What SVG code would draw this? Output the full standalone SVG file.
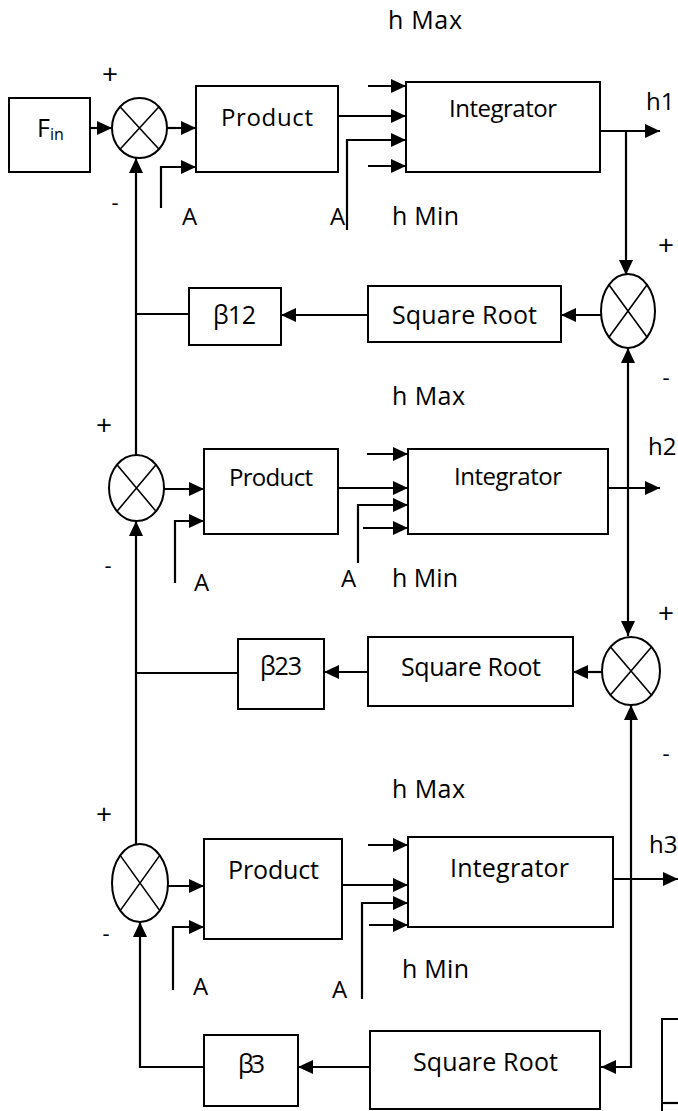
<svg xmlns="http://www.w3.org/2000/svg" width="678" height="1111" viewBox="0 0 678 1111">
<style>
.box{fill:#fff;stroke:#000;stroke-width:2}
.sum{fill:#fff;stroke:#000;stroke-width:2}
.x{stroke:#000;stroke-width:1.6}
.c{fill:none;stroke:#000;stroke-width:2.2}
.a{marker-end:url(#ah)}
text{font-family:"Open Sans","Noto Sans",sans-serif;fill:#000}
.t24{font-size:24px}
.t26{font-size:25px}
.t22{font-size:25px}
.sg{font-size:28px}
.mn{font-size:22px}
</style>
<defs>
<marker id="ah" markerUnits="userSpaceOnUse" markerWidth="15" markerHeight="14" refX="15" refY="7" orient="auto-start-reverse" viewBox="0 0 15 14">
<path d="M0,0 L15,7 L0,14 z" fill="#000"/>
</marker>
</defs>
<rect width="678" height="1111" fill="#fff"/>

<g id="connectors">
<path class="c a" d="M90,128 H112"/>
<path class="c a" d="M167,128 H196"/>
<path class="c a" d="M161,208 V167 H196"/>
<path class="c a" d="M338,116 H406"/>
<path class="c a" d="M368,86 H406"/>
<path class="c a" d="M347,230 V140 H406"/>
<path class="c a" d="M368,166 H406"/>
<path class="c a" d="M600,131 H660"/>
<path class="c a" d="M626,131 V275"/>
<path class="c a" d="M601,315 H561"/>
<path class="c a" d="M368,315 H281"/>
<path class="c" d="M189,314 H136"/>
<path class="c a" d="M136,455 V158"/>
<path class="c a" d="M628,636 V348" style="marker-start:url(#ah)"/>
<path class="c a" d="M164,489 H204"/>
<path class="c a" d="M175,583 V521 H204"/>
<path class="c a" d="M338,488 H408"/>
<path class="c a" d="M367,454 H408"/>
<path class="c a" d="M358,563 V505 H408"/>
<path class="c a" d="M363,528 H408"/>
<path class="c a" d="M608,488 H660"/>
<path class="c a" d="M602,672 H573"/>
<path class="c a" d="M368,672 H324"/>
<path class="c" d="M238,673 H136"/>
<path class="c a" d="M136,845 V521"/>
<path class="c a" d="M168,886 H204"/>
<path class="c a" d="M173,990 V927 H204"/>
<path class="c a" d="M342,885 H408"/>
<path class="c a" d="M368,845 H408"/>
<path class="c a" d="M362,999 V903 H408"/>
<path class="c a" d="M369,925 H408"/>
<path class="c a" d="M613,879 H678"/>
<path class="c a" d="M631,705 V1067 H601" style="marker-start:url(#ah)"/>
<path class="c a" d="M204,1067 H140 V922"/>
<path class="c a" d="M370,1067 H298"/>
</g>

<g id="fin">
<rect class="box" x="9" y="98" width="81" height="74"/>
<text class="t26" x="37" y="137">F<tspan font-size="16" dy="3">in</tspan></text>
</g>

<g id="sum1">
<ellipse class="sum" cx="139.5" cy="128" rx="27.5" ry="30"/>
<path class="x" d="M120,106.8 L159,149.2 M159,106.8 L120,149.2"/>
<text class="sg" x="110" y="84" text-anchor="middle">+</text>
<text class="mn" x="115" y="210" text-anchor="middle">-</text>
</g>

<g id="product1">
<rect class="box" x="196" y="86" width="142" height="86"/>
<text class="t24" x="221" y="126" textLength="92">Product</text>
</g>

<g id="integrator1">
<rect class="box" x="406" y="82" width="194" height="90"/>
<text class="t24" x="449" y="117" textLength="108">Integrator</text>
<text class="t22" x="388" y="29" textLength="74">h Max</text>
<text class="t22" x="392" y="225" textLength="67">h Min</text>
<text class="t24" x="182" y="225">A</text>
<text class="t24" x="330" y="225">A</text>
<text class="t24" x="646" y="110">h1</text>
</g>

<g id="sumR1">
<ellipse class="sum" cx="628" cy="311" rx="27" ry="37"/>
<path class="x" d="M608.9,284.8 L647.1,337.2 M647.1,284.8 L608.9,337.2"/>
<text class="sg" x="666" y="255" text-anchor="middle">+</text>
<text class="mn" x="666" y="385" text-anchor="middle">-</text>
</g>

<g id="sqrt1">
<rect class="box" x="368" y="286" width="193" height="56"/>
<text class="t26" x="392" y="324" textLength="145">Square Root</text>
</g>

<g id="beta12">
<rect class="box" x="189" y="288" width="92" height="57"/>
<text class="t26" x="213" y="324" textLength="43">β12</text>
</g>

<g id="sum2">
<ellipse class="sum" cx="136.5" cy="488" rx="27.5" ry="33"/>
<path class="x" d="M117,464.7 L156,511.3 M156,464.7 L117,511.3"/>
<text class="sg" x="104" y="435" text-anchor="middle">+</text>
<text class="mn" x="108" y="573" text-anchor="middle">-</text>
</g>

<g id="product2">
<rect class="box" x="204" y="449" width="134" height="85"/>
<text class="t24" x="229" y="486" textLength="84">Product</text>
</g>

<g id="integrator2">
<rect class="box" x="408" y="449" width="200" height="85"/>
<text class="t24" x="454" y="485" textLength="108">Integrator</text>
<text class="t22" x="392" y="405" textLength="73">h Max</text>
<text class="t22" x="392" y="587" textLength="66">h Min</text>
<text class="t24" x="194" y="591">A</text>
<text class="t24" x="341" y="587">A</text>
<text class="t24" x="648" y="455">h2</text>
</g>

<g id="sumR2">
<ellipse class="sum" cx="631" cy="671" rx="29" ry="34"/>
<path class="x" d="M610.5,647 L651.5,695 M651.5,647 L610.5,695"/>
<text class="sg" x="666" y="623" text-anchor="middle">+</text>
<text class="mn" x="666" y="761" text-anchor="middle">-</text>
</g>

<g id="sqrt2">
<rect class="box" x="368" y="637" width="205" height="69"/>
<text class="t26" x="401" y="676" textLength="140">Square Root</text>
</g>

<g id="beta23">
<rect class="box" x="238" y="639" width="86" height="70"/>
<text class="t26" x="260" y="675" textLength="42">β23</text>
</g>

<g id="sum3">
<ellipse class="sum" cx="140" cy="883" rx="28" ry="39"/>
<path class="x" d="M120.2,855.4 L159.8,910.6 M159.8,855.4 L120.2,910.6"/>
<text class="sg" x="104" y="824" text-anchor="middle">+</text>
<text class="mn" x="106" y="941" text-anchor="middle">-</text>
</g>

<g id="product3">
<rect class="box" x="204" y="839" width="138" height="100"/>
<text class="t26" x="228" y="879" textLength="91">Product</text>
</g>

<g id="integrator3">
<rect class="box" x="408" y="837" width="205" height="90"/>
<text class="t26" x="450" y="877" textLength="119">Integrator</text>
<text class="t22" x="392" y="798" textLength="73">h Max</text>
<text class="t22" x="402" y="978" textLength="67">h Min</text>
<text class="t24" x="193" y="995">A</text>
<text class="t24" x="332" y="998">A</text>
<text class="t24" x="649" y="853">h3</text>
</g>

<g id="beta3">
<rect class="box" x="204" y="1035" width="94" height="71"/>
<text class="t26" x="238" y="1073" textLength="27">β3</text>
</g>

<g id="sqrt3">
<rect class="box" x="370" y="1031" width="230" height="78"/>
<text class="t26" x="413" y="1071" textLength="145">Square Root</text>
</g>

<g id="partial">
<rect class="box" x="662" y="1019" width="30" height="100"/>
<path class="c" d="M662,1103 H678"/>
</g>
</svg>
